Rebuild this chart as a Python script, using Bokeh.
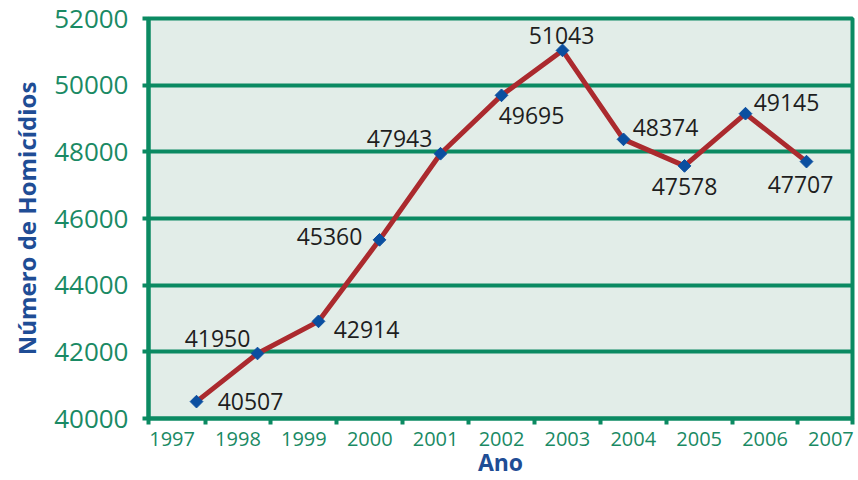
from bokeh.plotting import figure
from bokeh.models import ColumnDataSource, Range1d, FixedTicker, CustomJSTickFormatter
from bokeh.core.properties import value
from bokeh.embed import file_html
from bokeh.resources import INLINE

# ---- data ----
years = ["1997", "1998", "1999", "2000", "2001", "2002", "2003", "2004", "2005", "2006", "2007"]
homicides = [40507, 41950, 42914, 45360, 47943, 49695, 51043, 48374, 47578, 49145, 47707]
y_ticks = [40000, 42000, 44000, 46000, 48000, 50000, 52000]
x_title = "Ano"
y_title = "Número de Homicídios"

# ---- layout (label offsets in screen px, relative to each point) ----
label_dx = [54, -40, 48, -50, -41, 30, -1, 42, 0, 41, -6]
label_dy = [0, -15, 8, -3, -15, 20, -15, -12, 21, -11, 23]

GREEN = "#0b8a62"
GREEN_TXT = "#1a8a64"
BLUE = "#1f4d95"
RED = "#ab2a2e"
MARK = "#0b4fa0"
BG = "#e2ede8"
FONT = "Open Sans"

n = len(homicides)
xs = list(range(n))
x_start, x_end = -0.787, (n - 1) + 0.754
label_pos = [-0.40 + 1.08 * k for k in range(n)]
bound_pos = [x_start] + [0.14 + 1.08 * k for k in range(n - 1)] + [x_end]

src = ColumnDataSource(dict(
    x=xs, y=homicides, txt=[str(v) for v in homicides], dx=label_dx, dy=label_dy,
))

p = figure(width=858, height=480, output_backend="svg", toolbar_location=None,
           x_range=Range1d(x_start, x_end), y_range=Range1d(y_ticks[0], y_ticks[-1]),
           min_border_left=148, min_border_right=6, min_border_top=18, min_border_bottom=0)

p.background_fill_color = BG
p.border_fill_color = "white"
p.outline_line_color = GREEN
p.outline_line_width = 4

p.xgrid.grid_line_color = None
p.ygrid.grid_line_color = GREEN
p.ygrid.grid_line_width = 4
p.ygrid.ticker = FixedTicker(ticks=y_ticks)

# y axis
ya = p.yaxis[0]
ya.ticker = FixedTicker(ticks=y_ticks)
ya.axis_line_color = GREEN
ya.axis_line_width = 4
ya.major_tick_line_color = GREEN
ya.major_tick_line_width = 4
ya.major_tick_out = 6
ya.major_tick_in = 0
ya.minor_tick_line_color = None
ya.major_label_text_font = FONT
ya.major_label_text_font_size = "26px"
ya.major_label_text_color = GREEN_TXT
ya.major_label_standoff = 14
ya.axis_label = y_title
ya.axis_label_text_font = FONT
ya.axis_label_text_font_size = "24px"
ya.axis_label_text_font_style = "bold"
ya.axis_label_text_color = BLUE
ya.axis_label_standoff = 8

# x axis
xa = p.xaxis[0]
xa.ticker = FixedTicker(ticks=label_pos, minor_ticks=bound_pos)
xa.formatter = CustomJSTickFormatter(args=dict(labels=years), code="return labels[index];")
xa.axis_line_color = GREEN
xa.axis_line_width = 4
xa.major_tick_line_color = None
xa.major_tick_out = 0
xa.major_tick_in = 0
xa.minor_tick_line_color = GREEN
xa.minor_tick_line_width = 4
xa.minor_tick_out = 6
xa.minor_tick_in = 0
xa.major_label_text_font = FONT
xa.major_label_text_font_size = "20px"
xa.major_label_text_color = GREEN_TXT
xa.major_label_standoff = 7
xa.axis_label = x_title
xa.axis_label_text_font = FONT
xa.axis_label_text_font_size = "23px"
xa.axis_label_text_font_style = "bold"
xa.axis_label_text_color = BLUE
xa.axis_label_standoff = -3

p.line("x", "y", source=src, line_color=RED, line_width=5)
p.scatter("x", "y", source=src, marker="square", size=9, angle=0.785398,
          fill_color=MARK, line_color=MARK)
p.text("x", "y", text="txt", source=src, x_offset="dx", y_offset="dy",
       text_align="center", text_baseline="middle",
       text_font=value(FONT), text_font_size="23px", text_color="#1e1e1e")

open("out.html", "w").write(file_html(p, INLINE))
